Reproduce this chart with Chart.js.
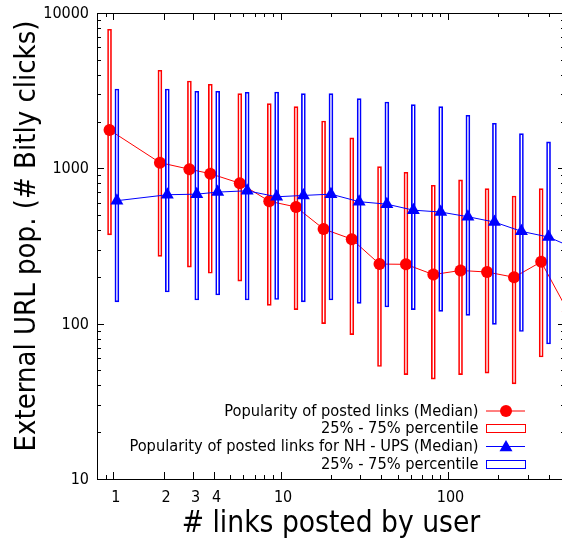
<!DOCTYPE html>
<html>
<head>
<meta charset="utf-8">
<script src="https://cdn.jsdelivr.net/npm/chart.js@4.4.0/dist/chart.umd.min.js"></script>
<style>
    html, body { margin: 0; padding: 0; background: #fff; overflow: hidden; }
    #wrap { position: relative; width: 565px; height: 539px; }
</style>
</head>
<body>
<div id="wrap"><canvas id="chart"></canvas></div>
<script>
const FONT = '"DejaVu Sans Condensed", "DejaVu Sans", sans-serif';

// bins of "# links posted by user" (log spaced, last one falls past the right edge)
const linkBins = [1, 2, 3, 4, 6, 9, 13, 19, 28, 41, 59, 86, 125, 180, 261, 379, 548];

// popularity of posted links
const postedMedian = [1766, 1088, 987, 924, 802, 614, 564, 407, 350, 242, 241, 207, 220, 215, 199, 250, 120];
const postedP25 = [373, 271, 231, 211, 188, 131, 123, 100, 85, 53, 47, 44, 47, 48, 41, 61];
const postedP75 = [7855, 4279, 3651, 3477, 3025, 2609, 2495, 2018, 1569, 1026, 944, 778, 842, 740, 664, 740];

// popularity of posted links for NH - UPS
const nhMedian = [619, 676, 682, 703, 717, 656, 669, 682, 610, 588, 538, 523, 488, 451, 393, 361, 304];
const nhP25 = [138, 160, 142, 153, 142, 143, 138, 142, 135, 128, 123, 120, 113, 99, 89, 74];
const nhP75 = [3243, 3243, 3134, 3134, 3088, 3102, 3025, 3025, 2809, 2675, 2570, 2495, 2197, 1951, 1673, 1479];

const xTickValues = [1, 2, 3, 4, 10, 100];
const yTickValues = [10, 100, 1000, 10000];

const yTitle = 'External URL pop. (# Bitly clicks)';
const xTitle = '# links posted by user';
const legendLabels = [
    'Popularity of posted links (Median)',
    '25% - 75% percentile',
    'Popularity of posted links for NH - UPS (Median)',
    '25% - 75% percentile'
];

// red sits a bit left of the bin, blue a bit right
const DODGE = 1.052;
const redX = linkBins.map(v => v / DODGE);
const blueX = linkBins.map(v => v * DODGE);

const RED = '#ff0000';
const BLUE = '#0000ff';

const frameTicks = {
    id: 'frameTicks',
    afterDatasetsDraw(chart) {
        const { ctx, chartArea: a, scales: { x, y } } = chart;
        ctx.save();
        ctx.strokeStyle = '#000';
        ctx.lineWidth = 1;
        ctx.beginPath();
        ctx.rect(Math.round(a.left) + 0.5, Math.round(a.top) + 0.5, a.right - a.left, a.bottom - a.top);
        ctx.stroke();

        ctx.beginPath();
        for (let d = 0.1; d <= 1000; d *= 10) {
            for (let k = 1; k <= 9; k++) {
                const v = d * k;
                if (v < x.min || v > x.max) continue;
                const len = xTickValues.some(t => Math.abs(t - v) < 1e-6) ? 7 : 4;
                const px = Math.round(x.getPixelForValue(v)) + 0.5;
                ctx.moveTo(px, a.bottom); ctx.lineTo(px, a.bottom - len);
                ctx.moveTo(px, a.top); ctx.lineTo(px, a.top + len);
            }
        }
        for (let d = 10; d <= 10000; d *= 10) {
            for (let k = 1; k <= 9; k++) {
                const v = d * k;
                if (v > y.max + 1e-6) continue;
                const len = k === 1 ? 7 : 4;
                const py = Math.round(y.getPixelForValue(v)) + 0.5;
                ctx.moveTo(a.left, py); ctx.lineTo(a.left + len, py);
                ctx.moveTo(a.right, py); ctx.lineTo(a.right - len, py);
            }
        }
        ctx.stroke();
        ctx.restore();
    }
};

const yTitleText = {
    id: 'yTitleText',
    afterDraw(chart) {
        const { ctx } = chart;
        ctx.save();
        ctx.translate(27, 236);
        ctx.rotate(-Math.PI / 2);
        ctx.font = '29px ' + FONT;
        ctx.fillStyle = '#000';
        ctx.textAlign = 'center';
        ctx.textBaseline = 'middle';
        ctx.fillText(yTitle, 0, 0);
        ctx.restore();
    }
};

const keyBox = {
    id: 'keyBox',
    afterDraw(chart) {
        const { ctx } = chart;
        const rows = [410.5, 428, 446, 464];
        const textRight = 478.5;
        const x0 = 486, x1 = 525, xm = 506;
        ctx.save();
        ctx.font = '16.3px ' + FONT;
        ctx.fillStyle = '#000';
        ctx.textAlign = 'right';
        ctx.textBaseline = 'middle';
        legendLabels.forEach((label, i) => {
            ctx.fillText(label, textRight, rows[i] + 1);
        });
        ctx.lineWidth = 1;
        // red median
        ctx.strokeStyle = RED;
        ctx.beginPath(); ctx.moveTo(x0, rows[0] + 0.5); ctx.lineTo(x1, rows[0] + 0.5); ctx.stroke();
        ctx.fillStyle = RED;
        ctx.beginPath(); ctx.arc(xm, rows[0] + 0.5, 6, 0, Math.PI * 2); ctx.fill();
        ctx.strokeRect(x0 + 0.5, rows[1] - 3.5, x1 - x0, 8);
        // blue median
        ctx.strokeStyle = BLUE;
        ctx.fillStyle = BLUE;
        ctx.beginPath(); ctx.moveTo(x0, rows[2] + 0.5); ctx.lineTo(x1, rows[2] + 0.5); ctx.stroke();
        const r = 7.5, cy = rows[2] + 1.5;
        ctx.beginPath();
        ctx.moveTo(xm, cy - r);
        ctx.lineTo(xm + r * 0.866, cy + r / 2);
        ctx.lineTo(xm - r * 0.866, cy + r / 2);
        ctx.closePath();
        ctx.fill();
        ctx.strokeRect(x0 + 0.5, rows[3] - 3.5, x1 - x0, 8);
        ctx.restore();
    }
};

Chart.defaults.color = '#000';
Chart.defaults.font.family = FONT;

const ctx = document.getElementById('chart').getContext('2d');
new Chart(ctx, {
    type: 'bar',
    data: {
        datasets: [
            {
                type: 'line',
                label: legendLabels[0],
                data: redX.map((x, i) => ({ x, y: postedMedian[i] })),
                borderColor: RED,
                backgroundColor: RED,
                borderWidth: 1,
                pointStyle: 'circle',
                pointRadius: 6,
                pointBorderWidth: 0,
                clip: 0,
                order: 4
            },
            {
                label: legendLabels[1],
                data: postedP25.map((lo, i) => ({ x: redX[i], y: [lo, postedP75[i]] })),
                borderColor: RED,
                backgroundColor: 'rgba(0,0,0,0)',
                borderWidth: 1,
                borderSkipped: false,
                barThickness: 4,
                grouped: false,
                order: 3
            },
            {
                type: 'line',
                label: legendLabels[2],
                data: blueX.map((x, i) => ({ x, y: nhMedian[i] })),
                borderColor: BLUE,
                backgroundColor: BLUE,
                borderWidth: 1,
                pointStyle: 'triangle',
                pointRadius: 7.5,
                pointBorderWidth: 0,
                clip: 0,
                order: 2
            },
            {
                label: legendLabels[3],
                data: nhP25.map((lo, i) => ({ x: blueX[i], y: [lo, nhP75[i]] })),
                borderColor: BLUE,
                backgroundColor: 'rgba(0,0,0,0)',
                borderWidth: 1,
                borderSkipped: false,
                barThickness: 4,
                grouped: false,
                order: 1
            }
        ]
    },
    options: {
        responsive: true,
        maintainAspectRatio: false,
        animation: false,
        layout: { autoPadding: false, padding: { top: 13, left: 0, right: 0, bottom: 0 } },
        plugins: {
            legend: { display: false },
            tooltip: { enabled: false }
        },
        scales: {
            x: {
                type: 'logarithmic',
                min: 0.8,
                max: 500,
                offset: false,
                grid: { display: false, drawTicks: false, offset: false },
                border: { display: false },
                afterBuildTicks: (scale) => {
                    scale.ticks = xTickValues.map(v => ({ value: v }));
                },
                afterFit: (scale) => {
                    scale.height = 60;
                    scale.paddingLeft = 0;
                    scale.paddingRight = 0;
                },
                ticks: {
                    autoSkip: false,
                    maxRotation: 0,
                    padding: 9,
                    labelOffset: 2.5,
                    font: { size: 16 },
                    callback: (v) => String(v)
                },
                title: {
                    display: true,
                    text: xTitle,
                    font: { size: 29.6, lineHeight: 1 },
                    padding: 0
                }
            },
            y: {
                type: 'logarithmic',
                min: 10,
                max: 10000,
                grid: { display: false, drawTicks: false },
                border: { display: false },
                afterBuildTicks: (scale) => {
                    scale.ticks = yTickValues.map(v => ({ value: v }));
                },
                afterFit: (scale) => {
                    scale.width = 97;
                    scale.paddingTop = 0;
                    scale.paddingBottom = 0;
                },
                ticks: {
                    padding: 8,
                    labelOffset: 1,
                    font: { size: 16 },
                    callback: (v) => String(v)
                },
                title: { display: false }
            }
        }
    },
    plugins: [frameTicks, yTitleText, keyBox]
});
</script>
</body>
</html>
